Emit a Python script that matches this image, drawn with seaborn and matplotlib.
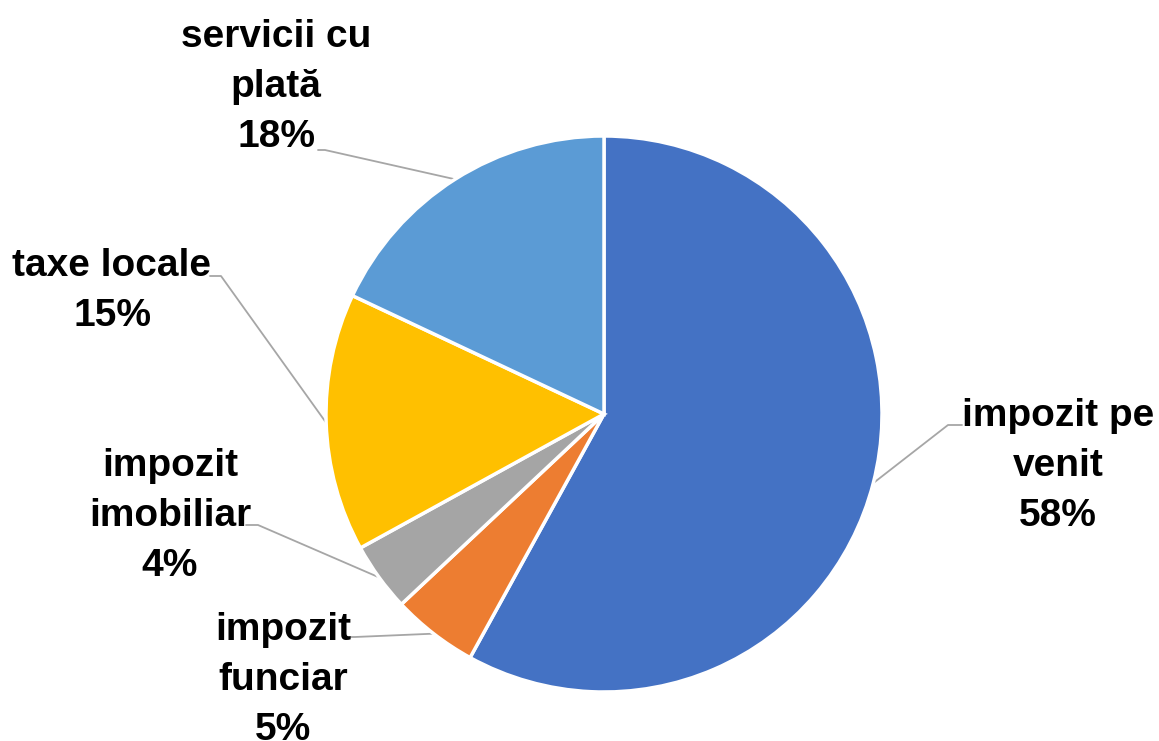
import numpy as np
import matplotlib
matplotlib.use("Agg")
import matplotlib.pyplot as plt
import seaborn as sns

# Structura veniturilor
categorii = ['impozit pe\nvenit', 'impozit\nfunciar', 'impozit\nimobiliar', 'taxe locale', 'servicii cu\nplată']
procente = [58, 5, 4, 15, 18]
culori = ['#4472C4', '#ED7D31', '#A5A5A5', '#FFC000', '#5B9BD5']

sns.set_theme(style='white')
plt.rcParams['font.family'] = ['Liberation Sans', 'DejaVu Sans']

fig = plt.figure(figsize=(11.59, 7.41), dpi=100)
ax = fig.add_axes([0, 0, 1, 1])
W, H = 1159, 741
cx, cy, r = 604, H - 414, 278

wedges, _ = ax.pie(procente, colors=culori, startangle=90, counterclock=False,
                   center=(cx, cy), radius=r,
                   wedgeprops=dict(edgecolor='white', linewidth=2.5))

# pozitia etichetelor (centru text) si cotul liniei de legatura (in pixeli, y de sus)
etichete_pos = [(1058, 466), (283, 680), (170, 516), (112, 291), (276, 87)]
coturi = [[(948, 425), (962, 425)],
          [(355, 637), (345, 637)],
          [(258, 525), (246, 525)],
          [(221, 276), (210, 276)],
          [(325, 150), (318, 150)]]

for w, lab, p, pos, cot in zip(wedges, categorii, procente, etichete_pos, coturi):
    ang = np.deg2rad((w.theta1 + w.theta2) / 2)
    x0, y0 = cx + r * np.cos(ang), cy + r * np.sin(ang)
    xs = [x0] + [c[0] for c in cot]
    ys = [y0] + [H - c[1] for c in cot]
    ax.plot(xs, ys, color='#A6A6A6', lw=1.3, zorder=0)
    ax.text(pos[0], H - pos[1], f'{lab}\n{p}%', ha='center', va='center',
            fontsize=28, fontweight='bold', color='black', linespacing=1.5)

ax.set_xlim(0, W)
ax.set_ylim(0, H)
ax.set_aspect('equal')
ax.axis('off')
fig.savefig('out.png', dpi=100)
